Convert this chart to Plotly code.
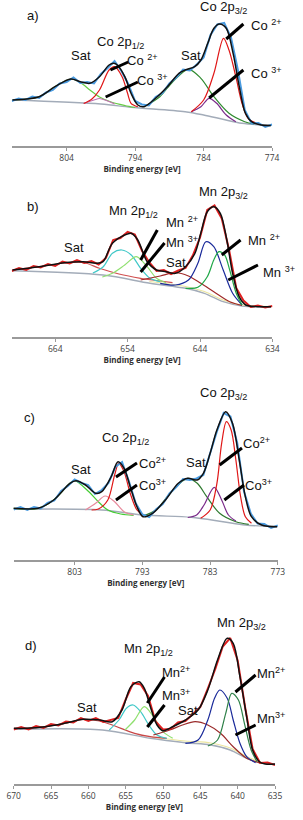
import plotly.graph_objects as go

# ======================= DATA (binding energy [eV], intensity [a.u.]) =======================
# ---- panel a : Co 2p ----
a_exp_ev = list(range(812, 773, -1))
a_exp_h = [45, 47.5, 46, 49.5, 48, 53.5, 56, 62.5, 64, 68.5, 63, 64, 62.5, 72, 78, 85, 75, 62, 45, 41.5,
           40.5, 49, 53, 62.5, 68.5, 76.5, 75.5, 81.5, 88.5, 111, 121.5, 123, 108.5, 76, 36, 22.5, 23, 19, 21.5]
a_env = [(811.9, 46), (808, 49.3), (805.7, 59.3), (803.4, 67), (802, 64.3), (800.6, 62.7), (799.2, 69.3),
         (797.8, 81), (797.1, 82.7), (796.6, 81), (795.5, 69.3), (794.6, 52.7), (793.6, 41), (792.7, 39.3),
         (791.3, 46), (789.5, 57.7), (787.6, 72.7), (786.7, 76), (785.3, 79.3), (784.4, 86), (783.4, 102.7),
         (782.5, 117.7), (781.7, 122), (780.7, 117.7), (779.7, 92.7), (778.8, 59.3), (777.9, 32.7), (777, 24.3),
         (775.6, 21), (774.2, 20.5)]
a_bg = [(811.9, 46), (799, 42), (794.6, 38.7), (786.7, 34.3), (784, 31), (781.2, 26.7), (778.4, 22.7), (774.2, 20.5)]
a_sat1 = [(811.9, 46), (808, 49.3), (805.7, 59.3), (803.4, 67), (802, 63.5), (800.6, 56), (799.2, 49),
          (797.5, 44), (795.5, 40.5), (794, 38.5)]
a_co3_12 = [(801.5, 42.5), (800, 46), (799.2, 47.5), (798.2, 45.5), (797, 42)]
a_co2_12 = [(801.5, 42.5), (800.3, 47), (799.2, 56), (797.8, 76), (797, 79.3), (795.9, 69.3), (795.1, 52.7),
            (794.6, 42.7), (793.6, 39.3)]
a_sat2 = [(792.7, 39.3), (790.4, 49.3), (788.5, 64.3), (786.2, 76.7), (784.4, 67.7), (782.5, 49.3),
          (780.3, 32.7), (778, 24.3), (776.6, 22)]
a_co3_32 = [(785.8, 34.3), (784.4, 39.3), (783.2, 47.7), (782.1, 42.7), (780.7, 31), (779.3, 24.3)]
a_co2_32 = [(785.8, 34.3), (784, 46), (782.5, 72.7), (781.1, 107.7), (780.3, 96), (779.3, 69.3),
            (778.4, 42.7), (777.5, 27.7), (776, 22)]
a_ticks = [804, 794, 784, 774]

# ---- panel b : Mn 2p ----
b_exp_ev = list(range(670, 633, -1))
b_exp_h = [66, 69, 67, 71, 69.5, 73, 71, 75.5, 73.5, 77, 74, 76, 72.5, 79, 97, 99, 105, 102.5, 86, 74.5,
           66, 67, 63, 66.5, 69, 81.5, 99.5, 127, 131.5, 118.5, 87.5, 49, 36.5, 30, 31.5, 29.5, 31]
b_env = [(669.9, 67), (666.2, 70.3), (662.7, 74.3), (660.1, 75.3), (658.3, 73.7), (657.4, 75.3), (656.1, 93.7),
         (654.4, 102), (653.5, 103.7), (652.6, 97), (651.3, 75.3), (650, 67), (648.7, 65.3), (647.4, 63.7),
         (646, 70.3), (644.7, 83.7), (643.9, 103.7), (643, 125.3), (642.1, 130.3), (641.2, 123.7), (640.3, 97),
         (639.5, 63.7), (638.6, 40.3), (637.7, 32), (636, 30.3), (634.2, 30.3)]
b_bg = [(669.9, 66.3), (657.4, 62), (650.9, 53.7), (646, 48.7), (643.4, 43.7), (640.8, 35.3), (638.2, 31), (634.2, 30.3)]
b_yel = [(651, 55.5), (646, 50.5), (643.4, 45.5), (640.8, 37), (638.2, 32), (634.2, 30.5)]
b_sat1 = [(669.9, 67), (666.2, 70.3), (662.7, 74), (660.1, 74.5), (657.9, 68.7), (655.2, 63), (652.2, 58.7),
          (649.5, 56), (647.8, 54.3)]
b_mn2_12 = [(658.8, 64), (657.4, 70), (656.1, 83.7), (654.8, 87), (653.5, 82), (652.2, 68.7), (650.9, 58.7), (649.5, 55.3)]
b_mn3_12 = [(657.5, 60), (656.1, 63.7), (654.4, 72), (652.8, 80.3), (651.3, 70.3), (650, 58.7), (648.7, 54.3)]
b_sat2 = [(652.2, 57), (649.5, 61), (647.4, 64.3), (645.6, 61), (643.9, 53.7), (642.1, 45.3), (639.9, 35.3), (638.2, 31.7)]
b_mn2_32 = [(649.5, 53.7), (647.4, 52), (645.6, 57), (644.3, 73.7), (643.2, 95.3), (642.1, 90.3), (640.8, 67),
            (639.5, 43.7), (638.2, 32)]
b_mn3_32 = [(646, 48.7), (644.3, 49.7), (643, 60.3), (642.1, 77), (641.4, 85.3), (640.6, 82), (639.9, 67),
            (639, 43.7), (638.2, 32)]
b_ticks = [664, 654, 644, 634]

# ---- panel c : Co 2p ----
c_exp_ev = list(range(812, 772, -1))
c_exp_h = [50.5, 53, 50, 53, 51.5, 57, 59.5, 69, 74, 80.5, 77, 75, 66, 70, 77, 93, 98, 79, 57, 45.5,
           43, 50.5, 56, 66.5, 73, 81, 80, 81.5, 85, 108, 128.5, 147, 143.5, 117, 68.5, 46.5, 36.5, 36, 32, 34.5]
c_env = [(812.1, 51.7), (808.4, 51.7), (806.1, 60), (803.7, 76.7), (802.8, 79.3), (801.4, 75), (799.9, 66.7),
         (799, 68.3), (797.6, 83.3), (796.6, 98.3), (795.7, 91.7), (794.8, 73.3), (793.8, 53.3), (792.9, 43.3),
         (791.5, 46.7), (789.6, 60), (787.7, 76.7), (786.3, 81.7), (784.9, 80), (784, 86.7), (783, 106.7),
         (782, 130), (780.7, 148.3), (779.7, 136.7), (778.7, 100), (777.8, 63.3), (776.9, 43.3), (775.4, 35),
         (773.1, 33.3)]
c_bg = [(812.1, 50.7), (799, 50), (792.9, 45), (785.8, 42.7), (781.1, 38.3), (777.8, 35), (773.1, 33.3)]
c_sat1 = [(812.1, 51.7), (808.4, 51.7), (806.1, 60), (803.7, 76.7), (803, 79.3), (800.9, 68.3), (799.5, 58.3),
          (798.1, 50), (796.2, 46), (794.3, 44.7)]
c_co3_12 = [(801.4, 50), (799.9, 56.7), (798.5, 64), (797.1, 58.3), (795.7, 48.3), (794.3, 45)]
c_co2_12 = [(800.5, 50), (799.5, 51), (798.1, 60), (797.1, 85), (796.5, 96.7), (795.7, 88.3), (794.8, 66.7),
            (793.8, 50), (792.9, 45)]
c_sat2 = [(792.9, 44), (791, 50), (789.1, 65), (787.2, 78.3), (786.3, 81.7), (784.9, 76.7), (783.5, 63.3),
          (781.6, 46.7), (779.2, 38.3), (777.3, 35.7)]
c_co3_32 = [(786.3, 42.5), (785, 45), (783.9, 55), (782.4, 72.7), (781.3, 60), (780.3, 45), (779.2, 39)]
c_co2_32 = [(784.4, 41.7), (783, 50), (782, 76.7), (781.3, 116.7), (780.6, 138.3), (779.9, 130), (779.2, 100),
            (778.5, 63.3), (777.8, 43.3), (776.9, 36.7)]
c_ticks = [803, 793, 783, 773]

# ---- panel d : Mn 2p ----
d_exp_ev = list(range(670, 634, -1))
d_exp_h = [54.5, 57, 54.5, 58, 56, 60, 58.5, 62.5, 61.5, 66, 63, 66, 62, 64, 66, 84.5, 101, 99.5, 88, 62.5,
           54.5, 55, 61.5, 63, 70.5, 77, 95.5, 115, 137.5, 146, 123.5, 76.5, 35, 21, 21.5, 19]
d_env = [(670, 55.7), (668.4, 55.7), (665.8, 57.3), (663.2, 60.7), (660.7, 64.7), (658.5, 64), (656.8, 62.3),
         (655.5, 74), (654.3, 97.3), (653.2, 102.3), (652.5, 95.7), (651.7, 77.3), (650.8, 59), (650, 53.3),
         (648.7, 57.3), (647, 64), (645.3, 74), (644, 94), (642.7, 124), (641.4, 145.7), (640.6, 140.7),
         (639.7, 107.3), (638.8, 67.3), (638, 34), (637.1, 22.3), (636.3, 20), (634.8, 20)]
d_bg = [(670, 54.7), (658.1, 54), (651.7, 45.7), (647, 41.3), (643.6, 39), (641, 34), (638.8, 25.7), (636.7, 20.7), (634.8, 20)]
d_yel = [(651.5, 47), (647, 43), (643.6, 41), (641, 36), (638.8, 27.5), (636.7, 21.2)]
d_sat1 = [(670, 55.7), (668.4, 55.7), (665.8, 57.3), (663.2, 60.7), (660.7, 64.5), (658.5, 63), (656.8, 59),
          (653.8, 50.7), (651.7, 47.3), (649.5, 45.7)]
d_mn2_12 = [(657.2, 54), (655.9, 64), (654.9, 75.7), (654, 79), (653, 72.3), (651.9, 59), (650.8, 49), (649.5, 45.7)]
d_mn3_12 = [(655.1, 54), (653.8, 64), (652.5, 77.3), (651.3, 67.3), (650, 52.3), (648.7, 45.7)]
d_sat2 = [(651.3, 49), (649.1, 54), (647.4, 59), (645.7, 62.3), (644, 59), (642.3, 50.7), (640.6, 37.3),
          (638.8, 25.7), (637.1, 21.3)]
d_mn2_32 = [(647, 40.7), (645.3, 44), (644, 64), (643.1, 85.7), (642.4, 94), (641.4, 85.7), (640.6, 64),
            (639.7, 40.7), (638.8, 27.3), (637.6, 21.3)]
d_mn3_32 = [(644, 38), (642.7, 44), (641.6, 70.7), (640.8, 90.7), (639.9, 84), (639.1, 60.7), (638.2, 34), (637.4, 22.3)]
d_ticks = [670, 665, 660, 655, 650, 645, 640, 635]

# ---- labels: (text, eV, intensity, x pixel shift) ----
a_labels = [("a)", 808.9, 131, 0), ("Co 2p<sub>3/2</sub>", 781.1, 139, 0), ("Co <sup>2+</sup>", 774.8, 121, 0),
            ("Co <sup>3+</sup>", 774.8, 73, 0), ("Sat", 801.9, 91, 0), ("Co 2p<sub>1/2</sub>", 796.2, 104, 0),
            ("Co <sup>2+</sup>", 792.9, 86, 0), ("Co <sup>3+</sup>", 791.4, 66, 0), ("Sat", 785.9, 91, 0)]
a_pointers = [(780.7, 107, 778.2, 122), (783.2, 48, 778.2, 76), (797.6, 76, 795.0, 84), (798.3, 49, 793.6, 64)]

b_labels = [("b)", 667.0, 130, 0), ("Mn 2p<sub>1/2</sub>", 653.2, 125, 0), ("Mn 2p<sub>3/2</sub>", 640.7, 144, 0),
            ("Mn <sup>2+</sup>", 646.5, 115, 0), ("Mn <sup>3+</sup>", 646.5, 95, 0), ("Sat", 661.4, 89, 0),
            ("Sat", 647.3, 75, 0), ("Mn <sup>2+</sup>", 635.1, 97, 0), ("Mn <sup>3+</sup>", 634.1, 65, 7)]
b_pointers = [(652.2, 77, 649.9, 107), (652.2, 65, 648.9, 94), (641.0, 82, 638.4, 97), (640.1, 57, 636.0, 72)]

c_labels = [("c)", 809.6, 143, 0), ("Co 2p<sub>3/2</sub>", 781.1, 167, 0), ("Co 2p<sub>1/2</sub>", 795.5, 122, 0),
            ("Sat", 802.1, 91, 0), ("Co<sup>2+</sup>", 791.5, 97, 0), ("Co<sup>3+</sup>", 791.5, 75, 0),
            ("Sat", 785.1, 98, 0), ("Co<sup>2+</sup>", 776.2, 117, 0), ("Co<sup>3+</sup>", 775.9, 75, 0)]
c_pointers = [(796.9, 83, 793.8, 97), (796.9, 60, 793.8, 75), (781.6, 95, 778.3, 112), (780.9, 60, 778.0, 75)]

d_labels = [("d)", 667.7, 139, 0), ("Mn 2p<sub>1/2</sub>", 651.9, 135, 0), ("Mn 2p<sub>3/2</sub>", 639.5, 161, 0),
            ("Mn<sup>2+</sup>", 648.3, 112, 0), ("Mn<sup>3+</sup>", 648.3, 89, 0), ("Sat", 660.2, 77, 0),
            ("Sat", 646.6, 74, 0), ("Mn<sup>2+</sup>", 635.6, 111, 0), ("Mn<sup>3+</sup>", 635.6, 66, 0)]
d_pointers = [(652.1, 81, 649.8, 107), (652.1, 57, 649.8, 79), (640.3, 92, 637.6, 109), (640.3, 49, 637.6, 59)]

# ======================= STYLES =======================
BG_C = "#a3acb9"
BLACK = "#111111"
W, H = 303, 820
FONT = "Liberation Sans, Arial, sans-serif"

fig = go.Figure()


def curve(pts, color, ax, width=1.2):
    fig.add_trace(go.Scatter(x=[p[0] for p in pts], y=[p[1] for p in pts], mode="lines",
                             line=dict(color=color, width=width, shape="spline", smoothing=0.9),
                             xaxis="x" + ax, yaxis="y" + ax, hoverinfo="skip", showlegend=False))


def exp(xs, ys, color, ax):
    fig.add_trace(go.Scatter(x=xs, y=ys, mode="lines", line=dict(color=color, width=2),
                             xaxis="x" + ax, yaxis="y" + ax, hoverinfo="skip", showlegend=False))


panels = [
    ("", "#4a9be0", a_exp_ev, a_exp_h, a_bg, [(a_sat1, "#66cc44"), (a_co3_12, "#c070b0"), (a_co2_12, "#e01818"),
                                              (a_sat2, "#2f8a2f"), (a_co3_32, "#7a2a8a"), (a_co2_32, "#e01818")], a_env),
    ("2", "#e02020", b_exp_ev, b_exp_h, b_bg, [(b_yel, "#ece6a0"), (b_sat1, "#d05050"), (b_mn2_12, "#40c8c8"),
                                               (b_mn3_12, "#90e070"), (b_sat2, "#a02a2a"), (b_mn2_32, "#1a2a9a"),
                                               (b_mn3_32, "#20a848")], b_env),
    ("3", "#4a9be0", c_exp_ev, c_exp_h, c_bg, [(c_sat1, "#44cc33"), (c_co3_12, "#e88a9c"), (c_co2_12, "#e01818"),
                                               (c_sat2, "#2f7a2f"), (c_co3_32, "#7a2a8a"), (c_co2_32, "#e01818")], c_env),
    ("4", "#e02020", d_exp_ev, d_exp_h, d_bg, [(d_yel, "#ece6a0"), (d_sat1, "#c84848"), (d_mn2_12, "#40c8c8"),
                                               (d_mn3_12, "#90e070"), (d_sat2, "#9a2a2a"), (d_mn2_32, "#1a2a9a"),
                                               (d_mn3_32, "#2e8048")], d_env),
]

for ax, ecol, ex, ey, bg, comps, env in panels:
    curve(bg, BG_C, ax, 1.4)
    for pts, col in comps:
        curve(pts, col, ax, 1.2)
    exp(ex, ey, ecol, ax)
    curve(env, BLACK, ax, 1.5)

annotations, shapes = [], []
for ax, labels, pointers in [("", a_labels, a_pointers), ("2", b_labels, b_pointers),
                             ("3", c_labels, c_pointers), ("4", d_labels, d_pointers)]:
    for t, x, y, dx in labels:
        annotations.append(dict(text=t, x=x, y=y, xref="x" + ax, yref="y" + ax, showarrow=False,
                                xanchor="center", yanchor="middle", xshift=dx,
                                font=dict(family=FONT, size=13, color="#111111")))
    for x0, y0, x1, y1 in pointers:
        shapes.append(dict(type="line", x0=x0, y0=y0, x1=x1, y1=y1, xref="x" + ax, yref="y" + ax,
                           line=dict(color="#000000", width=3)))


def xax(dom, rng, ticks, anchor):
    return dict(domain=[dom[0] / W, dom[1] / W], range=rng, anchor=anchor, tickvals=ticks,
                ticktext=[str(t) for t in ticks], showline=True, linecolor="#9a9a9a", linewidth=1.5,
                ticks="outside", ticklen=3, tickcolor="#9a9a9a", showgrid=False, zeroline=False,
                ticklabeloverflow="allow",
                tickfont=dict(family="Open Sans, sans-serif", size=8.5, color="#404040"),
                title=dict(text="<b>Binding energy [eV]</b>", standoff=3,
                           font=dict(family="Open Sans, sans-serif", size=8, color="#303030")))


def yax(top, bottom, rng, anchor):
    return dict(domain=[1 - bottom / H, 1 - top / H], range=rng, anchor=anchor, visible=False,
                showgrid=False, zeroline=False)


fig.update_layout(
    width=W, height=H, margin=dict(l=0, r=0, t=0, b=0),
    paper_bgcolor="white", plot_bgcolor="white", showlegend=False,
    xaxis=xax((5, 278), [812, 774], a_ticks, "y"),
    yaxis=yax(0, 146, [0, 146], "x"),
    xaxis2=xax((5, 278.3), [670, 634], b_ticks, "y2"),
    yaxis2=yax(180, 337, [0, 157], "x2"),
    xaxis3=xax((7, 284), [812, 773], c_ticks, "y3"),
    yaxis3=yax(385, 560, [0, 175], "x3"),
    xaxis4=xax((7, 281), [670, 635], d_ticks, "y4"),
    yaxis4=yax(615, 784, [0, 169], "x4"),
    annotations=annotations, shapes=shapes,
)

fig.write_html("out.html", config={"displayModeBar": False, "responsive": False},
               post_script="document.body.style.margin='0';document.body.style.overflow='hidden';")
